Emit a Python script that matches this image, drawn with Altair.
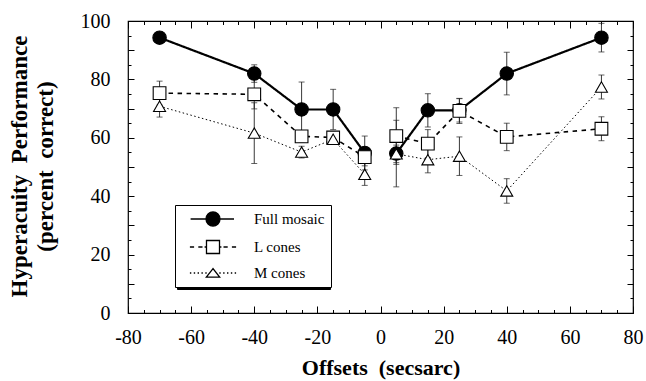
import altair as alt
import pandas as pd

# Offsets (secsarc) at which hyperacuity was measured
offsets = [-70, -40, -25, -15, -5, 5, 15, 25, 40, 70]

series_names = ["Full mosaic", "L cones", "M cones"]

# Percent correct and error half-widths per stimulus condition
full_mosaic = [94.3, 82.0, 69.7, 69.7, 54.8, 54.6, 69.4, 69.4, 82.0, 94.3]
full_mosaic_err = [0.0, 3.0, 9.4, 6.9, 5.8, 11.4, 5.7, 4.0, 7.3, 4.9]

l_cones = [75.3, 74.9, 60.5, 60.1, 53.4, 60.6, 58.0, 69.2, 60.3, 63.1]
l_cones_err = [4.1, 5.0, 2.0, 2.0, 3.0, 9.7, 4.8, 4.3, 4.7, 4.1]

m_cones = [70.8, 61.6, 55.1, 59.5, 47.5, 54.5, 52.5, 53.7, 41.8, 77.4]
m_cones_err = [3.7, 10.4, 2.0, 1.5, 3.8, 3.0, 4.5, 6.6, 4.2, 4.1]

rows = []
for name, vals, errs in zip(series_names,
                            [full_mosaic, l_cones, m_cones],
                            [full_mosaic_err, l_cones_err, m_cones_err]):
    for o, v, e in zip(offsets, vals, errs):
        rows.append({"offset": o, "pct": v, "err": e, "series": name})
df = pd.DataFrame(rows)

SERIF = "Liberation Serif"
NBSP = "\u00a0"

x_scale = alt.Scale(domain=[-80, 80], nice=False, zero=False)
y_scale = alt.Scale(domain=[0, 100], nice=False)

x_ticks = list(range(-80, 81, 5))
y_ticks = list(range(0, 101, 5))

# inward ticks: long at majors, short at minors (dash trims the line)
x_tick_dash = {"condition": {"test": "datum.value % 20 === 0", "value": [7, 0]},
               "value": [3.5, 20]}
y_tick_dash = {"condition": {"test": "datum.value % 10 === 0", "value": [6, 0]},
               "value": [3, 20]}

major_label = "datum.value % 20 === 0 ? '' + datum.value : ''"

x_axis_bottom = alt.Axis(
    orient="bottom", values=x_ticks, tickSize={"expr": "-7"}, tickDash=x_tick_dash,
    tickColor="black", tickWidth=1, domain=False, grid=False,
    labelExpr=major_label,
    labelOverlap=False, labelFlush=False, labelFontSize=20,
    labelColor="black", labelPadding=21, labelBaseline="top",
    title=f"Offsets{NBSP} (secsarc)", titleFontSize=22,
    titleFontWeight="bold", titleColor="black", titleY=61.6,
    titleBaseline="alphabetic",
)
y_axis_left = alt.Axis(
    orient="left", values=y_ticks, tickSize={"expr": "-6"}, tickDash=y_tick_dash,
    tickColor="black", tickWidth=1, domain=False, grid=False,
    labelExpr=major_label,
    labelOverlap=False, labelFlush=False, labelFontSize=20,
    labelColor="black", labelPadding=24,
    title=[f"Hyperacuity{NBSP} Performance", f"(percent{NBSP} correct)"],
    titleFontSize=23, titleFontWeight="bold", titleColor="black",
    titleLineHeight=26, titleX=-109, titleY=145, titleBaseline="middle",
    titleAngle=270,
)
x_axis_top = alt.Axis(
    orient="top", values=x_ticks, tickSize={"expr": "-7"}, tickDash=x_tick_dash,
    tickColor="black", tickWidth=1, domain=False, grid=False, labels=False, title=None,
)
y_axis_right = alt.Axis(
    orient="right", values=y_ticks, tickSize={"expr": "-6"}, tickDash=y_tick_dash,
    tickColor="black", tickWidth=1, domain=False, grid=False, labels=False, title=None,
)

base = alt.Chart(df).transform_calculate(
    side="datum.offset < 0 ? 'left' : 'right'",
    lo="datum.pct - datum.err",
    hi="datum.pct + datum.err",
)

lines = base.mark_line(color="black").encode(
    x=alt.X("offset:Q", scale=x_scale, axis=x_axis_bottom),
    y=alt.Y("pct:Q", scale=y_scale, axis=y_axis_left),
    detail="side:N",
    strokeDash=alt.StrokeDash("series:N", scale=alt.Scale(
        domain=series_names, range=[[1, 0], [4.5, 4.5], [1.5, 2.5]]), legend=None),
    strokeWidth=alt.StrokeWidth("series:N", scale=alt.Scale(
        domain=series_names, range=[2.2, 1, 1.1]), legend=None),
)

err_bars = base.mark_rule(color="#222", strokeWidth=0.9).encode(
    x=alt.X("offset:Q", scale=x_scale, axis=None),
    y=alt.Y("lo:Q", scale=y_scale, axis=None),
    y2="hi:Q",
)

err_caps = base.transform_fold(["lo", "hi"], as_=["end", "val"]).mark_tick(
    color="#222", orient="horizontal", size=6, thickness=1
).encode(
    x=alt.X("offset:Q", scale=x_scale, axis=None),
    y=alt.Y("val:Q", scale=y_scale, axis=None),
)

points = base.mark_point(opacity=1, stroke="black", strokeWidth=1.1).encode(
    x=alt.X("offset:Q", scale=x_scale, axis=x_axis_top),
    y=alt.Y("pct:Q", scale=y_scale, axis=y_axis_right),
    shape=alt.Shape("series:N", scale=alt.Scale(
        domain=series_names, range=["circle", "square", "triangle-up"]), legend=None),
    fill=alt.Fill("series:N", scale=alt.Scale(
        domain=series_names, range=["black", "white", "white"]), legend=None),
    size=alt.Size("series:N", scale=alt.Scale(
        domain=series_names, range=[180, 144, 170]), legend=None),
)

# legend symbols: a marker with its line style drawn on both sides
legend_paths = [
    "M-3.2,0L-1,0M1,0L3,0M-1,0A1,1,0,1,1,1,0A1,1,0,1,1,-1,0Z",
    "M-3.3,0L-2.7,0M-2.1,0L-1.5,0M-1.2,0L-0.93,0M0.93,0L1.2,0M1.5,0L2.1,0M2.7,0L3.3,0"
    "M-0.93,-0.93L0.93,-0.93L0.93,0.93L-0.93,0.93Z",
    "M-3.3,0L-3.1,0M-2.75,0L-2.55,0M-2.2,0L-2,0M-1.65,0L-1.45,0M-1.1,0L-0.9,0"
    "M0.9,0L1.1,0M1.45,0L1.65,0M2,0L2.2,0M2.55,0L2.75,0M3.1,0L3.3,0"
    "M0,-0.62L-0.95,0.58L0.95,0.58Z",
]

LEG_X, LEG_Y = 47, 184
legend_common = dict(
    orient="none", title=None, padding=6,
    symbolSize=196, symbolOffset=24, symbolStrokeWidth=1.3,
    rowPadding=8, labelFontSize=15,
)

legend_def = alt.Legend(
    legendX=LEG_X, legendY=LEG_Y, strokeColor="black", fillColor="white",
    labelColor="black", labelOffset=33, **legend_common,
)
# solid dark box without labels, offset down-right, reads as a drop shadow
shadow_def = alt.Legend(
    legendX=LEG_X + 2, legendY=LEG_Y + 2, strokeColor="black", fillColor="black",
    labelExpr="''", labelOffset=101, labelColor="black",
    symbolFillColor="black", symbolStrokeColor="black",
    **legend_common,
)

shadow_layer = base.transform_filter("false").mark_point(
    opacity=1, strokeWidth=1.3, color="black", filled=True
).encode(
    x=alt.X("offset:Q", scale=x_scale, axis=None),
    y=alt.Y("pct:Q", scale=y_scale, axis=None),
    shape=alt.Shape("series:N", scale=alt.Scale(domain=series_names, range=legend_paths),
                    legend=shadow_def),
)

legend_layer = base.transform_filter("false").mark_point(
    opacity=1, strokeWidth=1.3
).encode(
    x=alt.X("offset:Q", scale=x_scale, axis=None),
    y=alt.Y("pct:Q", scale=y_scale, axis=None),
    shape=alt.Shape("series:N", scale=alt.Scale(domain=series_names, range=legend_paths),
                    legend=legend_def),
    fill=alt.Fill("series:N", scale=alt.Scale(
        domain=series_names, range=["black", "white", "white"]), legend=legend_def),
    stroke=alt.Stroke("series:N", scale=alt.Scale(
        domain=series_names, range=["black", "black", "black"]), legend=legend_def),
)

chart = alt.layer(
    lines, err_bars, err_caps, points, shadow_layer, legend_layer
).resolve_scale(
    shape="independent", fill="independent", size="independent",
    stroke="independent",
).resolve_axis(
    x="independent", y="independent"
).properties(
    width=505, height=292,
    autosize=alt.AutoSizeParams(type="none"),
    padding={"left": 128, "top": 21, "right": 13, "bottom": 68},
).configure(
    background="white", font=SERIF
).configure_view(
    stroke="black", strokeWidth=1.2
).configure_axis(
    labelFont=SERIF, titleFont=SERIF
).configure_legend(
    labelFont=SERIF
)

chart.save("out.html", embed_options={"renderer": "svg", "actions": False})
